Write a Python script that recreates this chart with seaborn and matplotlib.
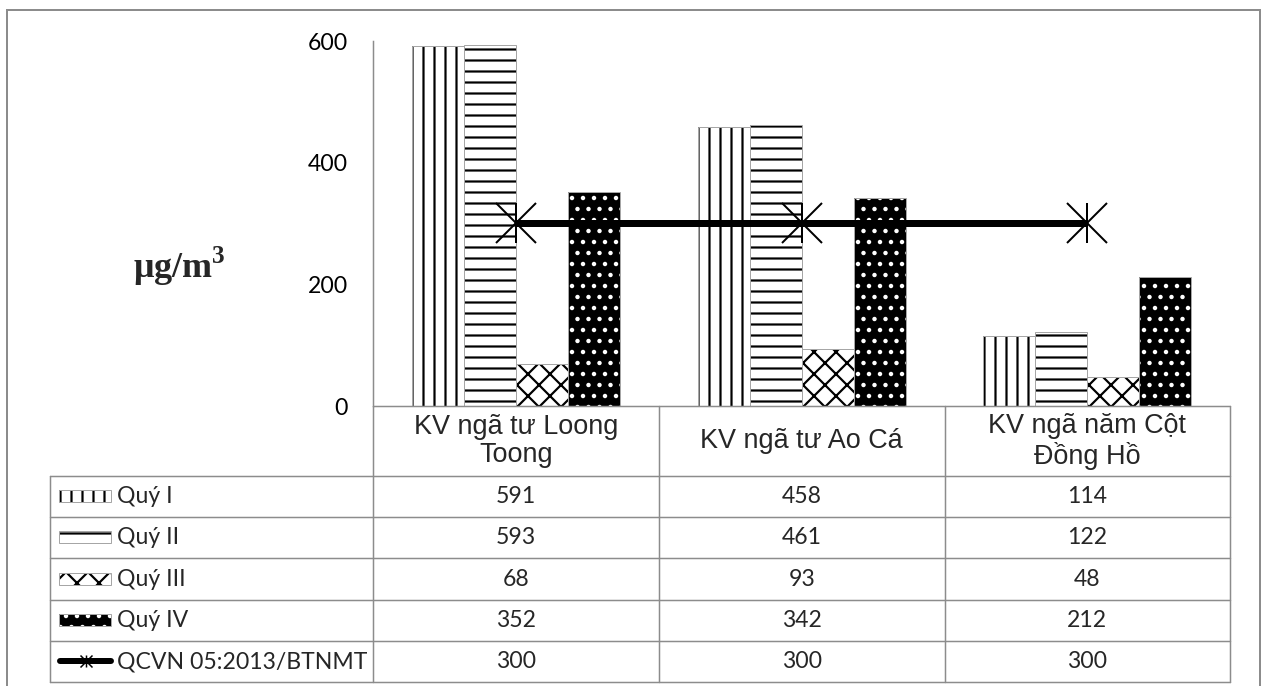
import numpy as np
import pandas as pd
import matplotlib
matplotlib.use("Agg")
import matplotlib.pyplot as plt
import seaborn as sns
from matplotlib.patches import Rectangle
from matplotlib.lines import Line2D

# ---- data -------------------------------------------------------------
categories = ["KV ngã tư Loong\nToong", "KV ngã tư Ao Cá", "KV ngã năm Cột\nĐồng Hồ"]
quarters = ["Quý I", "Quý II", "Quý III", "Quý IV"]
quy_1 = [591, 458, 114]
quy_2 = [593, 461, 122]
quy_3 = [68, 93, 48]
quy_4 = [352, 342, 212]
standard_name = "QCVN 05:2013/BTNMT"
standard = [300, 300, 300]
y_ticks = [0, 200, 400, 600]

# ---- page geometry (pixels) ------------------------------------------
DPI = 66
W, H = 1265, 686
PT = 72 / DPI  # points per pixel

sns.set_theme(style="white")
plt.rcParams["hatch.linewidth"] = 2.2 * PT
plt.rcParams["mathtext.fontset"] = "custom"
plt.rcParams["mathtext.bf"] = "Liberation Serif:bold"
plt.rcParams["mathtext.rm"] = "Liberation Serif"

BODY = ["Lato", "DejaVu Sans"]
HEAD = ["Liberation Sans", "DejaVu Sans"]
GRID = "#8c8c8c"

fig = plt.figure(figsize=((W + 0.3) / DPI, (H + 0.3) / DPI), dpi=DPI)
fig.patch.set_facecolor("white")


def fx(px):
    return px / W


def fy(py):
    return 1 - py / H


x0, x1 = 373, 1230
y_top, y_zero = 41, 406
ax = fig.add_axes([fx(x0), fy(y_zero), (x1 - x0) / W, (y_zero - y_top) / H])
ax.set_facecolor("none")

# ---- bars -------------------------------------------------------------
rows = []
for q, vals in zip(quarters, [quy_1, quy_2, quy_3, quy_4]):
    for c, v in zip(categories, vals):
        rows.append((c, q, v))
df = pd.DataFrame(rows, columns=["area", "quarter", "value"])

sns.barplot(data=df, x="area", y="value", hue="quarter", order=categories,
            hue_order=quarters, palette=["white", "white", "white", "black"],
            saturation=1, width=0.728, gap=0, legend=False, ax=ax, errorbar=None)

styles = [("|", "white", "black"), ("-", "white", "black"),
          ("x", "white", "black"), (".", "black", "white")]
for cont, (hatch, fc, hc) in zip(ax.containers, styles):
    for bar in cont:
        bar.set_facecolor(fc)
        bar.set_hatch(hatch)
        bar.set_edgecolor(hc)
        bar.set_linewidth(0)
        ax.add_patch(Rectangle(bar.get_xy(), bar.get_width(), bar.get_height(),
                               fill=False, edgecolor="#a6a6a6", lw=1 * PT,
                               zorder=bar.get_zorder() + 0.1))

# ---- standard line ----------------------------------------------------
xs = np.arange(len(categories))
sns.lineplot(x=xs, y=standard, color="black", lw=7 * PT, ax=ax, zorder=4,
             solid_capstyle="butt")
for m in ("x", "|"):
    ax.plot(xs, standard, ls="none", marker=m, ms=40 * PT, mew=2 * PT,
            color="black", zorder=5)

ax.set_xlim(-0.5, len(categories) - 0.5)
ax.set_ylim(0, 600)
ax.set_yticks(y_ticks)
ax.set_yticklabels([str(t) for t in y_ticks], fontfamily=BODY, fontsize=23 * PT,
                   color="black")
ax.set_xticks([])
ax.set_xlabel("")
ax.set_ylabel("")
ax.tick_params(axis="y", length=0, pad=25 * PT)
for s in ("top", "right", "bottom"):
    ax.spines[s].set_visible(False)
ax.spines["left"].set_color(GRID)
ax.spines["left"].set_linewidth(1.5 * PT)

# ---- data table under the plot ----------------------------------------
row_edges = [476, 517, 558, 600, 641, 682]
col_edges = [x0 + (x1 - x0) * i / len(categories) for i in range(len(categories) + 1)]
tbl_left = 50


def hline(y, xa, xb):
    fig.add_artist(Line2D([fx(xa), fx(xb)], [fy(y), fy(y)], color=GRID,
                          lw=1.5 * PT, transform=fig.transFigure))


def vline(x, ya, yb):
    fig.add_artist(Line2D([fx(x), fx(x)], [fy(ya), fy(yb)], color=GRID,
                          lw=1.5 * PT, transform=fig.transFigure))


hline(y_zero, x0, x1)
for y in row_edges:
    hline(y, tbl_left, x1)
for x in col_edges:
    vline(x, y_zero, row_edges[-1])
vline(tbl_left, row_edges[0], row_edges[-1])

for i, cat in enumerate(categories):
    cx = (col_edges[i] + col_edges[i + 1]) / 2
    fig.text(fx(cx), fy((y_zero + row_edges[0]) / 2), cat, ha="center",
             va="center", fontfamily=HEAD, fontsize=27 * PT, linespacing=1.12)

series = [quy_1, quy_2, quy_3, quy_4, standard]
labels = quarters + [standard_name]
for r, (lab, vals) in enumerate(zip(labels, series)):
    cy = (row_edges[r] + row_edges[r + 1]) / 2
    fig.text(fx(117), fy(cy), lab, ha="left", va="center",
             fontfamily=BODY, fontsize=23 * PT)
    for i, v in enumerate(vals):
        cx = (col_edges[i] + col_edges[i + 1]) / 2
        fig.text(fx(cx), fy(cy), str(v), ha="center", va="center",
                 fontfamily=BODY, fontsize=23 * PT)
    # legend key
    if r < len(quarters):
        hatch, fc, hc = styles[r]
        kh = 12
        fig.add_artist(Rectangle((fx(59), fy(cy + kh / 2)), (111 - 59) / W, kh / H,
                                 facecolor=fc, hatch=hatch, edgecolor=hc, lw=0,
                                 transform=fig.transFigure))
        fig.add_artist(Rectangle((fx(59), fy(cy + kh / 2)), (111 - 59) / W, kh / H,
                                 fill=False, edgecolor="#a6a6a6", lw=1 * PT,
                                 transform=fig.transFigure))
    else:
        fig.add_artist(Line2D([fx(60), fx(111)], [fy(cy), fy(cy)], color="black",
                              lw=6 * PT, solid_capstyle="round",
                              transform=fig.transFigure))
        for m in ("x", "|"):
            fig.add_artist(Line2D([fx(85.5)], [fy(cy)], ls="none", marker=m,
                                  ms=13 * PT, mew=1.5 * PT, color="black",
                                  transform=fig.transFigure))

# ---- unit label -------------------------------------------------------
fig.text(fx(179), fy(266), r"μg/m$^{\mathbf{3}}$", ha="center", va="center",
         fontfamily="Liberation Serif", fontweight="bold", fontsize=36 * PT)

# ---- outer frame ------------------------------------------------------
fig.add_artist(Rectangle((fx(7), fy(720)), (1260 - 7) / W, (720 - 10) / H,
                         fill=False, edgecolor=GRID, lw=2 * PT,
                         transform=fig.transFigure))

fig.savefig("out.png", dpi=DPI, facecolor="white")
